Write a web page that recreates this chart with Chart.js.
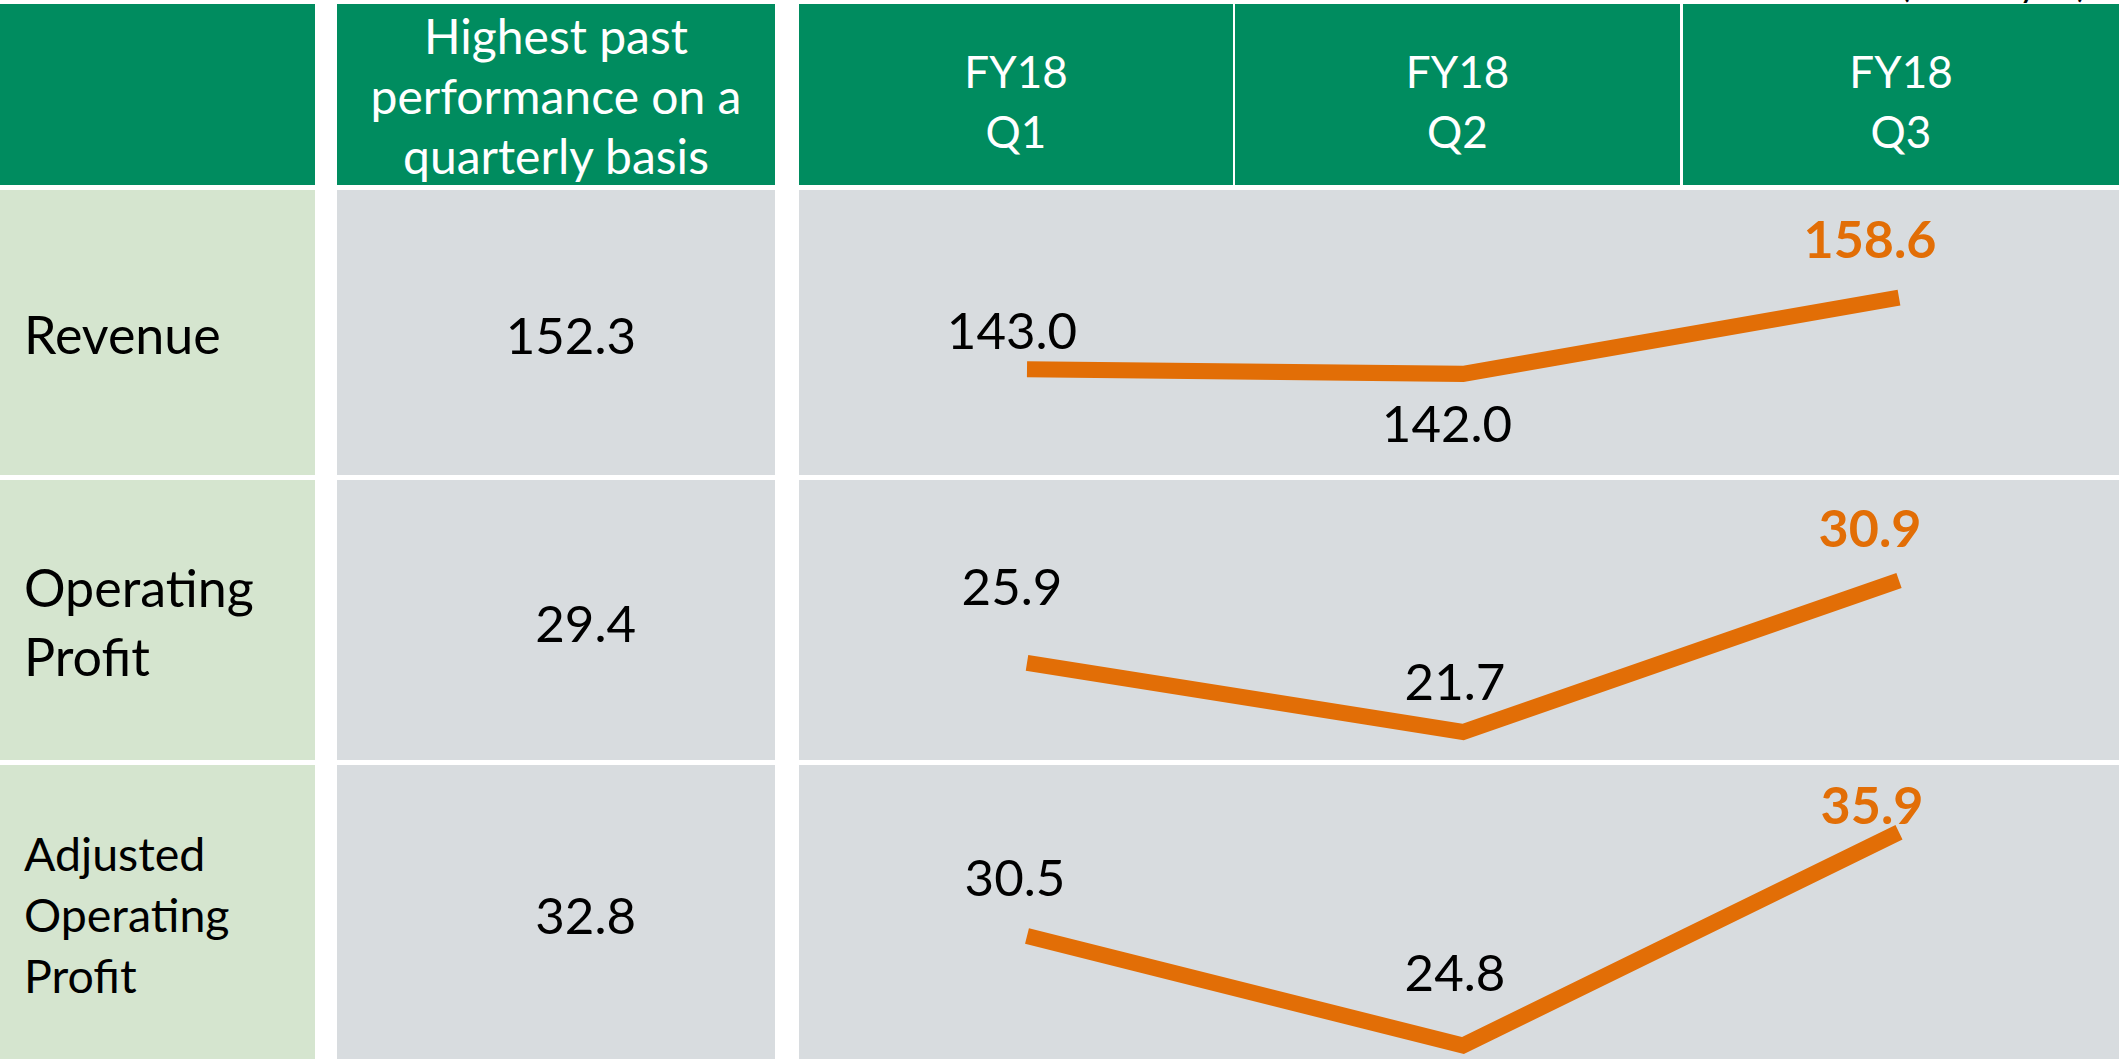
<!DOCTYPE html>
<html>
<head>
<meta charset="utf-8">
<script src="https://cdn.jsdelivr.net/npm/chart.js@4.4.0/dist/chart.umd.min.js"></script>
<style>
  html, body { margin: 0; padding: 0; background: #fff; }
  body { width: 2119px; height: 1059px; position: relative; overflow: hidden; font-family: Lato, "Open Sans", sans-serif; }
  .cell { position: absolute; box-sizing: border-box; display: flex; align-items: center; }
  .head { background: #008C5F; color: #fff; justify-content: center; text-align: center; font-size: 44px; line-height: 60px; }
  .label { background: #D5E5CF; color: #000; padding-left: 24px; }
  .best { background: #D8DCDF; color: #000; justify-content: flex-end; padding-right: 139px; font-size: 51px; }
  .plot { background: #D8DCDF; }
  .plot canvas { position: absolute; left: 0; top: 0; }
  #unit { position: absolute; left: 1900px; top: -40px; font-size: 37px; color: #000; white-space: nowrap; }
</style>
</head>
<body>
<div id="unit"></div>
<script>
// table content
const quarters = [['FY18', 'Q1'], ['FY18', 'Q2'], ['FY18', 'Q3']];
const metrics = [['Revenue'], ['Operating', 'Profit'], ['Adjusted', 'Operating', 'Profit']];
const pastTitle = ['Highest past', 'performance on a', 'quarterly basis'];
const pastBest = [152.3, 29.4, 32.8];
const unitNote = '(Billion yen)';

// quarterly values (one line per row)
const revenue = [143.0, 142.0, 158.6];
const operatingProfit = [25.9, 21.7, 30.9];
const adjustedOperatingProfit = [30.5, 24.8, 35.9];

const orange = '#E26E06';

// layout of the sheet
const rowTops = [190, 480, 765];
const rowHeights = [285, 280, 294];
const labelFont = [[52, 69], [52, 69], [46.5, 61]];
const headerCols = [[799, 434], [1235, 445], [1683, 436]];

function addCell(cls, x, y, w, h, html, style) {
  const d = document.createElement('div');
  d.className = 'cell ' + cls;
  d.style.left = x + 'px';
  d.style.top = y + 'px';
  d.style.width = w + 'px';
  d.style.height = h + 'px';
  if (style) Object.assign(d.style, style);
  d.innerHTML = html;
  document.body.appendChild(d);
  return d;
}

document.getElementById('unit').textContent = unitNote;

// header row
addCell('head', 0, 4, 315, 181, '');
addCell('head', 337, 4, 438, 181, '<div>' + pastTitle.join('<br>') + '</div>', { paddingTop: '2px', fontSize: '48px' });
quarters.forEach((q, i) => {
  addCell('head', headerCols[i][0], 4, headerCols[i][1], 181, '<div>' + q.join('<br>') + '</div>', { paddingTop: '12px' });
});

// body rows
metrics.forEach((m, i) => {
  addCell('label', 0, rowTops[i], 315, rowHeights[i], '<div>' + m.join('<br>') + '</div>',
    { fontSize: labelFont[i][0] + 'px', lineHeight: labelFont[i][1] + 'px', paddingTop: '4px' });
  addCell('best', 337, rowTops[i], 438, rowHeights[i], pastBest[i].toFixed(1), { paddingTop: '4px' });
});

// draws the value next to every point
const valueLabels = {
  id: 'valueLabels',
  afterDatasetsDraw(chart, args, opts) {
    const ctx = chart.ctx;
    const values = chart.data.datasets[0].data;
    const meta = chart.getDatasetMeta(0);
    ctx.save();
    ctx.textAlign = 'center';
    ctx.textBaseline = 'middle';
    meta.data.forEach((pt, i) => {
      const last = i === values.length - 1;
      ctx.font = last ? 'bold 52px Lato' : '51px Lato';
      ctx.fillStyle = last ? orange : '#000';
      const off = opts.offsets[i];
      ctx.fillText(values[i].toFixed(1), pt.x + off[0], pt.y + off[1]);
    });
    ctx.restore();
  }
};

const rows = [
  { data: revenue, min: 120, max: 182, offsets: [[-15, -37], [-16, 52], [-29, -56]] },
  { data: operatingProfit, min: 20, max: 37, offsets: [[-15, -74], [-8, -48], [-29, -50]] },
  { data: adjustedOperatingProfit, min: 24.1, max: 39.4, offsets: [[-12, -56], [-8, -71], [-27, -25]] }
];

rows.forEach((r, i) => {
  const box = addCell('plot', 799, rowTops[i], 1320, rowHeights[i], '');
  const canvas = document.createElement('canvas');
  canvas.width = 1320;
  canvas.height = rowHeights[i];
  box.appendChild(canvas);
  new Chart(canvas.getContext('2d'), {
    type: 'line',
    data: {
      labels: quarters.map(q => q.join(' ')),
      datasets: [{
        label: metrics[i].join(' '),
        data: r.data,
        borderColor: orange,
        borderWidth: 16,
        borderJoinStyle: 'miter',
        borderCapStyle: 'butt',
        pointRadius: 0,
        tension: 0,
        clip: false
      }]
    },
    options: {
      responsive: false,
      animation: false,
      layout: { padding: { left: 10, right: 2, top: 0, bottom: 0 } },
      plugins: {
        legend: { display: false },
        tooltip: { enabled: false },
        valueLabels: { offsets: r.offsets }
      },
      scales: {
        x: { display: false, offset: true },
        y: { display: false, min: r.min, max: r.max }
      }
    },
    plugins: [valueLabels]
  });
});
</script>
</body>
</html>
